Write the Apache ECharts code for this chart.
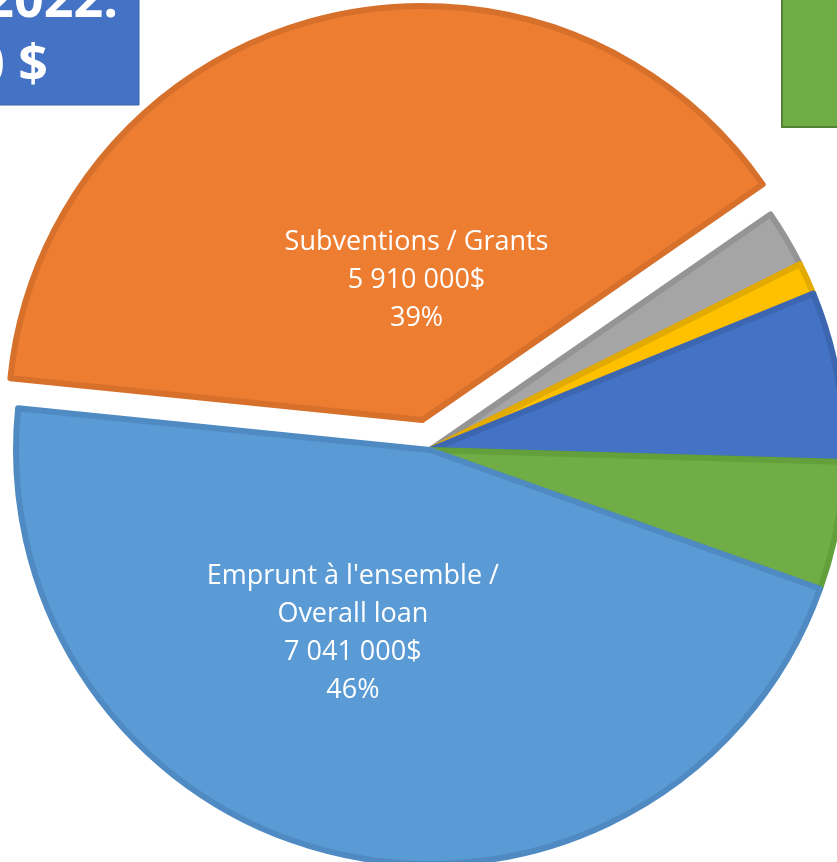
<!DOCTYPE html>
<html>
<head>
<meta charset="utf-8">
<script src="https://cdn.jsdelivr.net/npm/echarts@6/dist/echarts.min.js"></script>
<style>
html,body{margin:0;padding:0;background:#fff;}
#chart{width:837px;height:862px;}
</style>
</head>
<body>
<div id="chart"></div>
<script>
// Data (clockwise order starting from the left edge of the orange slice)
const categories = ['Subventions / Grants', 'Autre 1', 'Autre 2', 'Autre 3', 'Autre 4', "Emprunt à l'ensemble /\nOverall loan"];
const values = [5910000, 339000, 190000, 1010000, 760000, 7041000];
const percents = ['39%', '2%', '1%', '7%', '5%', '46%'];
const valueLabels = ['5 910 000$', '339 000$', '190 000$', '1 010 000$', '760 000$', '7 041 000$'];
const boxTitle = ['2022:', '0 $'];

const fills = ['#ED7D31', '#A5A5A5', '#FFC000', '#4472C4', '#70AD47', '#5B9BD5'];
const borders = ['#D6702B', '#949494', '#E3AB00', '#3C66B0', '#63A03B', '#4F8BC2'];
const showLabel = [true, false, false, false, false, true];
const labelOffsets = [[30, 67], [0, 0], [0, 0], [0, 0], [0, 0], [-31, -22]];

const chart = echarts.init(document.getElementById('chart'), null, {renderer: 'canvas'});

function labelCfg(i) {
  return {
    show: showLabel[i],
    position: 'inside',
    offset: labelOffsets[i],
    color: '#ffffff',
    fontFamily: 'Open Sans',
    fontSize: 27,
    lineHeight: 38,
    align: 'center',
    formatter: () => categories[i] + '\n' + valueLabels[i] + '\n' + percents[i]
  };
}

const data = categories.map((c, i) => ({
  name: c,
  value: values[i],
  selected: i === 0,
  itemStyle: {color: fills[i], borderColor: borders[i], borderWidth: 6},
  label: labelCfg(i),
  select: {label: labelCfg(i), itemStyle: {color: fills[i], borderColor: borders[i], borderWidth: 6}}
}));

chart.setOption({
  animation: false,
  series: [{
    type: 'pie',
    center: [430, 450],
    radius: [0, 414],
    startAngle: 174.2,
    clockwise: true,
    selectedMode: 'single',
    selectedOffset: 31,
    avoidLabelOverlap: false,
    labelLine: {show: false},
    emphasis: {disabled: true},
    data: data
  }],
  graphic: [
    {type: 'rect', shape: {x: -10, y: -10, width: 149, height: 115}, style: {fill: '#4472C4', stroke: '#3C66B0', lineWidth: 1}, z: 10},
    {type: 'text', style: {text: boxTitle[0], x: 118, y: -24, align: 'right', verticalAlign: 'top', fill: '#fff', font: 'bold 52px "Open Sans"'}, z: 11},
    {type: 'text', style: {text: boxTitle[1], x: 48, y: 41, align: 'right', verticalAlign: 'top', fill: '#fff', font: 'bold 52px "Open Sans"'}, z: 11},
    {type: 'rect', shape: {x: 782, y: -10, width: 70, height: 137}, style: {fill: '#70AD47', stroke: '#548235', lineWidth: 2}, z: 10}
  ]
});
</script>
</body>
</html>
